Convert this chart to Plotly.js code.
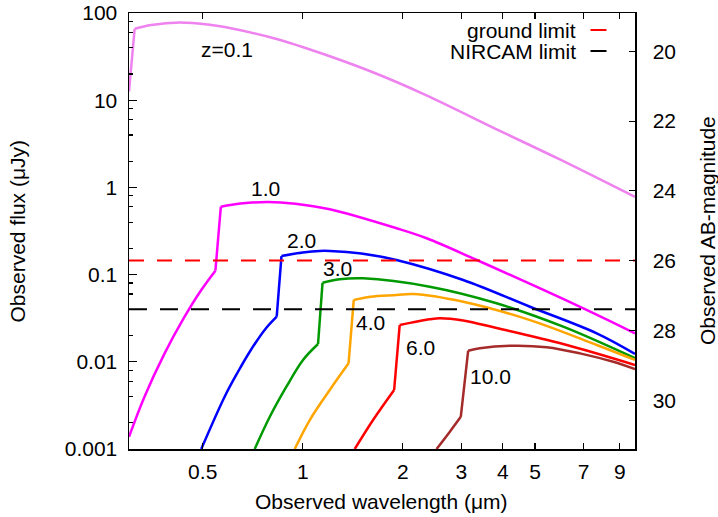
<!DOCTYPE html>
<html>
<head>
<meta charset="utf-8">
<script src="https://cdn.plot.ly/plotly-3.0.1.min.js"></script>
<style>
  html, body { margin: 0; padding: 0; background: #ffffff; }
  #chart { width: 718px; height: 517px; }
</style>
</head>
<body>
<div id="chart"></div>
<script>
// ---- Data (wavelength in micron, flux in microJy) ----
const z01_wl = [0.300, 0.312, 0.350, 0.426, 0.525, 0.582, 0.824, 1.165, 1.647, 2.33, 3.92, 5.94, 10.0];
const z01_f  = [12.6, 66, 73, 78, 73.5, 69, 51.0, 33.4, 20.5, 11.6, 4.45, 2.09, 0.776];

const z1_wl = [0.300, 0.334, 0.384, 0.441, 0.495, 0.546, 0.567, 0.650, 0.786, 0.95, 1.206, 1.915, 2.36, 3.34, 6.99, 10.0];
const z1_f  = [0.00138, 0.00398, 0.0125, 0.0329, 0.0666, 0.111, 0.601, 0.653, 0.68, 0.65, 0.561, 0.34, 0.261, 0.147, 0.041, 0.0212];

const z2_wl = [0.495, 0.582, 0.638, 0.692, 0.768, 0.835, 0.863, 1.0, 1.125, 1.206, 1.5, 1.915, 3.04, 4.83, 7.67, 10.0];
const z2_f  = [0.001, 0.00398, 0.00764, 0.01296, 0.0232, 0.0329, 0.163, 0.179, 0.187, 0.187, 0.175, 0.147, 0.0867, 0.0428, 0.0212, 0.0123];

const z3_wl = [0.717, 0.796, 0.893, 1.002, 1.112, 1.147, 1.29, 1.519, 2.41, 3.83, 6.08, 10.0];
const z3_f  = [0.001, 0.00234, 0.00518, 0.0105, 0.016, 0.0807, 0.0883, 0.0906, 0.0726, 0.0469, 0.0253, 0.011];

const z4_wl = [0.946, 1.05, 1.206, 1.374, 1.424, 1.6, 1.915, 2.15, 3.04, 4.83, 7.67, 10.0];
const z4_f  = [0.001, 0.00215, 0.00475, 0.0096, 0.0512, 0.0558, 0.0583, 0.06, 0.0489, 0.0301, 0.0156, 0.0105];

const z6_wl = [1.434, 1.628, 1.884, 1.958, 2.41, 2.587, 3.04, 3.83, 6.08, 10.0];
const z6_f  = [0.001, 0.00215, 0.00475, 0.0264, 0.0307, 0.0316, 0.0298, 0.0244, 0.016, 0.0092];

const z10_wl = [2.528, 2.772, 2.99, 3.147, 3.41, 4.30, 5.42, 6.83, 8.6, 10.0];
const z10_f  = [0.001, 0.00158, 0.00234, 0.0134, 0.0143, 0.0153, 0.0147, 0.0125, 0.01, 0.00826];

// index of the last point below the spectral break of each curve
const breakIndex = [0, 5, 5, 4, 3, 2, 2];

const limitRange = [0.3, 10.0];
const groundLimit = 0.145;   // microJy (AB 26)
const nircamLimit = 0.040;   // microJy

const labelText = ['z=0.1', '1.0', '2.0', '3.0', '4.0', '6.0', '10.0'];
const labelX = [0.59, 0.773, 0.991, 1.27, 1.6, 2.26, 3.68];
const labelY = [37.9, 0.976, 0.245, 0.116, 0.0284, 0.01466, 0.00687];

const xTickVals = [0.5, 1, 2, 3, 4, 5, 7, 9];
const xTickText = ['0.5', '1', '2', '3', '4', '5', '7', '9'];
const yTickVals = [0.001, 0.01, 0.1, 1, 10, 100];
const yTickText = ['0.001', '0.01', '0.1', '1', '10', '100'];
const yMinorVals = [0.002,0.004,0.006,0.008, 0.02,0.04,0.06,0.08, 0.2,0.4,0.6,0.8, 2,4,6,8, 20,40,60,80];
const magTickVals = [20, 22, 24, 26, 28, 30];
const magZero = 23.9; // AB magnitude of 1 microJy

// ---- Build ----
const FONT = 'Liberation Sans, Arial, Helvetica, sans-serif';
const FS = 21;
const series = [
  [z01_wl, z01_f, '#ee82ee'],
  [z1_wl, z1_f, '#ff00ff'],
  [z2_wl, z2_f, '#0000ff'],
  [z3_wl, z3_f, '#009a00'],
  [z4_wl, z4_f, '#ffa500'],
  [z6_wl, z6_f, '#ff0000'],
  [z10_wl, z10_f, '#a52a2a']
];

function seg(x, y, color, shape) {
  return { x: x, y: y, type: 'scatter', mode: 'lines', showlegend: false, hoverinfo: 'skip',
           line: { color: color, width: 2.5, shape: shape, smoothing: 1.0 } };
}
const traces = [];
series.forEach((s, i) => {
  const [wl, f, c] = s;
  const b = breakIndex[i];
  if (b > 0) traces.push(seg(wl.slice(0, b + 1), f.slice(0, b + 1), c, 'spline'));
  traces.push(seg(wl.slice(b, b + 2), f.slice(b, b + 2), c, 'linear'));
  traces.push(seg(wl.slice(b + 1), f.slice(b + 1), c, 'spline'));
});
traces.push({ x: limitRange, y: [groundLimit, groundLimit], type: 'scatter', mode: 'lines', showlegend: false,
  line: { color: '#ff0000', width: 2, dash: '15px,13px' }, hoverinfo: 'skip' });
traces.push({ x: limitRange, y: [nircamLimit, nircamLimit], type: 'scatter', mode: 'lines', showlegend: false,
  line: { color: '#000000', width: 2, dash: '18px,13px' }, hoverinfo: 'skip' });
// invisible traces so the magnitude axis and minor-tick axis are drawn
traces.push({ x: limitRange, y: [magZero - 2.5 * Math.log10(groundLimit), magZero - 2.5 * Math.log10(groundLimit)],
  yaxis: 'y2', type: 'scatter', mode: 'lines', line: { width: 0, color: 'rgba(0,0,0,0)' }, showlegend: false, hoverinfo: 'skip' });
traces.push({ x: limitRange, y: [groundLimit, groundLimit],
  yaxis: 'y3', type: 'scatter', mode: 'lines', line: { width: 0, color: 'rgba(0,0,0,0)' }, showlegend: false, hoverinfo: 'skip' });

const L = 129, R = 635, T = 13, B = 449;
function px(p) { return (p - L) / (R - L); }
function py(p) { return (B - p) / (B - T); }
const txtFont = { family: FONT, size: FS, color: '#000' };

const annotations = labelText.map((t, i) => ({
  text: t, x: Math.log10(labelX[i]), y: Math.log10(labelY[i]), xref: 'x', yref: 'y',
  showarrow: false, xanchor: 'center', yanchor: 'middle', font: txtFont
}));
annotations.push({ text: 'Observed wavelength (\u03bcm)', xref: 'paper', yref: 'paper', x: px(381.5), y: py(501.7),
  showarrow: false, xanchor: 'center', yanchor: 'middle', font: txtFont });
annotations.push({ text: 'Observed flux (\u03bcJy)', xref: 'paper', yref: 'paper', x: px(17.5), y: py(232),
  textangle: -90, showarrow: false, xanchor: 'center', yanchor: 'middle', font: txtFont });
annotations.push({ text: 'Observed AB-magnitude', xref: 'paper', yref: 'paper', x: px(707), y: py(231),
  textangle: -90, showarrow: false, xanchor: 'center', yanchor: 'middle', font: txtFont });
annotations.push({ text: 'ground limit', xref: 'paper', yref: 'paper', x: px(578), y: py(30),
  showarrow: false, xanchor: 'right', yanchor: 'middle', font: txtFont });
annotations.push({ text: 'NIRCAM limit', xref: 'paper', yref: 'paper', x: px(578), y: py(51),
  showarrow: false, xanchor: 'right', yanchor: 'middle', font: txtFont });

const shapes = [
  { type: 'line', xref: 'paper', yref: 'paper', x0: px(590.5), x1: px(606.5), y0: py(30), y1: py(30),
    line: { color: '#ff0000', width: 2 } },
  { type: 'line', xref: 'paper', yref: 'paper', x0: px(590.5), x1: px(606.5), y0: py(51), y1: py(51),
    line: { color: '#000000', width: 2 } }
];

const layout = {
  width: 718, height: 517,
  margin: { l: L, r: 718 - R, t: T, b: 517 - B, pad: 0 },
  paper_bgcolor: '#ffffff', plot_bgcolor: '#ffffff',
  showlegend: false,
  xaxis: {
    type: 'log', range: [Math.log10(limitRange[0]), Math.log10(limitRange[1])],
    tickmode: 'array', tickvals: xTickVals, ticktext: xTickText,
    ticks: 'inside', ticklen: 6, tickwidth: 1.2, tickcolor: '#000',
    showline: true, linecolor: '#000', linewidth: 1.5, mirror: 'ticks',
    showgrid: false, zeroline: false, tickfont: txtFont, ticklabelstandoff: 3
  },
  yaxis: {
    type: 'log', range: [-3, 2],
    tickmode: 'array', tickvals: yTickVals, ticktext: yTickText,
    ticks: 'inside', ticklen: 8, tickwidth: 1.2, tickcolor: '#000',
    showline: true, linecolor: '#000', linewidth: 1.5, mirror: false,
    showgrid: false, zeroline: false, tickfont: txtFont, ticklabelstandoff: 6
  },
  yaxis3: {
    overlaying: 'y', side: 'left', anchor: 'x', type: 'log', range: [-3, 2],
    tickmode: 'array', tickvals: yMinorVals, showticklabels: false,
    ticks: 'inside', ticklen: 4, tickwidth: 1.2, tickcolor: '#000',
    showline: false, showgrid: false, zeroline: false
  },
  yaxis2: {
    overlaying: 'y', side: 'right', anchor: 'x',
    range: [magZero - 2.5 * (-3), magZero - 2.5 * 2],
    tickmode: 'array', tickvals: magTickVals, ticktext: magTickVals.map(String),
    ticks: 'inside', ticklen: 6, tickwidth: 1.2, tickcolor: '#000',
    showline: true, linecolor: '#000', linewidth: 1.5,
    showgrid: false, zeroline: false, tickfont: txtFont, ticklabelstandoff: 12
  },
  annotations: annotations,
  shapes: shapes
};

Plotly.newPlot('chart', traces, layout, { staticPlot: true, displayModeBar: false });
</script>
</body>
</html>
